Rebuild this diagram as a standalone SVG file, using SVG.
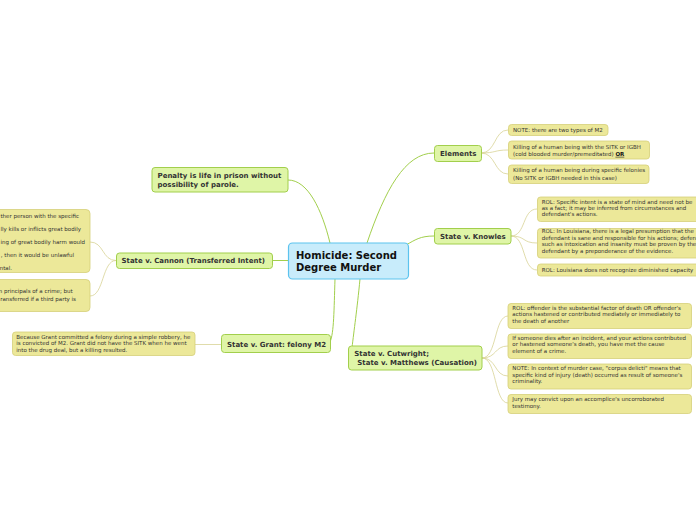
<svg xmlns="http://www.w3.org/2000/svg" width="696" height="520" viewBox="0 0 696 520">
<style>
.bg{fill:#ffffff}
.main rect{fill:#c8ecfb;stroke:#5cc3ee;stroke-width:1.2}
.main text{font-family:"DejaVu Sans",Verdana,sans-serif;font-weight:bold;font-size:10px;fill:#111}
.topic rect{fill:#dff5a7;stroke:#a2cf4c;stroke-width:1}
.topic text{font-family:"DejaVu Sans",Verdana,sans-serif;font-weight:bold;font-size:7px;fill:#333}
.leaf rect{fill:#ece899;stroke:#d5cf78;stroke-width:0.8}
.leaf text{font-family:"DejaVu Sans",Verdana,sans-serif;font-size:5.5px;fill:#333}
.c1{fill:none;stroke:#a2cf4c;stroke-width:1}
.c2{fill:none;stroke:#d8d396;stroke-width:0.8}
</style>
<rect class="bg" x="0" y="0" width="696" height="520"/>
<g id="connectors">
<path class="c1" d="M330,243 C322,210 308,180 288,180"/>
<path class="c1" d="M367,243 C385,190 405,153 434,153"/>
<path class="c1" d="M406,245 C415,240 420,236 434,236"/>
<path class="c1" d="M272,260.5 L288,260.5"/>
<path class="c1" d="M335,279 C334,310 334,333 330,342"/>
<path class="c1" d="M360,279 C357,310 354,330 352,348"/>
<path class="c2" d="M481,153 C496,153 494,130 508,130"/>
<path class="c2" d="M481,153 C496,153 494,150 508,150"/>
<path class="c2" d="M481,153 C496,153 494,174 508,174"/>
<path class="c2" d="M511,236 C526,236 522,209 537,209"/>
<path class="c2" d="M511,236 C526,236 522,243 537,243"/>
<path class="c2" d="M511,236 C526,236 522,270 537,270"/>
<path class="c2" d="M482,358 C497,358 494,316 508,316"/>
<path class="c2" d="M482,358 C497,358 494,346 508,346"/>
<path class="c2" d="M482,358 C497,358 494,376 508,376"/>
<path class="c2" d="M482,358 C497,358 494,403 508,403"/>
<path class="c2" d="M116,260.5 C102,260.5 104,242 90,242"/>
<path class="c2" d="M116,260.5 C102,260.5 104,296 90,296"/>
<path class="c2" d="M195,344.5 L221,344.5"/>
</g>
<g id="central" class="main">
<rect x="288.5" y="243" width="120" height="36" rx="4"/>
<text x="296" y="258.5">Homicide: Second</text>
<text x="296" y="270.5">Degree Murder</text>
</g>
<g id="penalty" class="topic">
<rect x="152" y="167.5" width="136" height="24.5" rx="3"/>
<text x="157.5" y="177.5">Penalty is life in prison without</text>
<text x="157.5" y="186.8">possibility of parole.</text>
</g>
<g id="elements" class="topic">
<rect x="434.5" y="145.5" width="47" height="16" rx="3"/>
<text x="440" y="156">Elements</text>
</g>
<g id="knowles" class="topic">
<rect x="434.5" y="228.5" width="76.5" height="15.5" rx="3"/>
<text x="440" y="238.7">State v. Knowles</text>
</g>
<g id="cannon" class="topic">
<rect x="116.5" y="253" width="156" height="15.5" rx="3"/>
<text x="121.5" y="263">State v. Cannon (Transferred Intent)</text>
</g>
<g id="grant" class="topic">
<rect x="221.5" y="334.5" width="109" height="18" rx="3"/>
<text x="227" y="346.9">State v. Grant: felony M2</text>
</g>
<g id="cutwright" class="topic">
<rect x="348.5" y="346" width="133.5" height="24" rx="3"/>
<text x="354.3" y="355.9">State v. Cutwright;</text>
<text x="357.3" y="364.7">State v. Matthews (Causation)</text>
</g>
<g id="el-note" class="leaf">
<rect x="508.5" y="124.5" width="99.5" height="11" rx="3"/>
<text x="513" y="131.8">NOTE: there are two types of M2</text>
</g>
<g id="el-sitk" class="leaf">
<rect x="508.5" y="141" width="141" height="18" rx="3"/>
<text x="513" y="148.5">Killing of a human being with the SITK or IGBH</text>
<text x="513" y="155.8">(cold blooded murder/premeditated) <tspan font-weight="bold" text-decoration="underline" fill="#111">OR</tspan></text>
</g>
<g id="el-felony" class="leaf">
<rect x="508.5" y="165" width="140.5" height="18.5" rx="3"/>
<text x="513" y="172.4">Killing of a human being during specific felonies</text>
<text x="513" y="179.5">(No SITK or IGBH needed in this case)</text>
</g>
<g id="kn-intent" class="leaf">
<rect x="537.5" y="197" width="170" height="24.5" rx="3"/>
<text x="541.7" y="203.5">ROL: Specific intent is a state of mind and need not be</text>
<text x="541.7" y="209.8">as a fact; it may be inferred from circumstances and</text>
<text x="541.7" y="216">defendant's actions.</text>
</g>
<g id="kn-sane" class="leaf">
<rect x="537.5" y="228.5" width="170" height="29.5" rx="3"/>
<text x="541.7" y="233">ROL: In Louisiana, there is a legal presumption that the</text>
<text x="541.7" y="239.5">defendant is sane and responsible for his actions; defen</text>
<text x="541.7" y="246">such as intoxication and insanity must be proven by the</text>
<text x="541.7" y="252.5">defendant by a preponderance of the evidence.</text>
</g>
<g id="kn-capacity" class="leaf">
<rect x="537.5" y="264" width="170" height="12" rx="3"/>
<text x="541.7" y="272">ROL: Louisiana does not recognize diminished capacity</text>
</g>
<g id="cu-rol" class="leaf">
<rect x="508" y="303.5" width="183.5" height="25" rx="3"/>
<text x="512.3" y="309.5">ROL: offender is the substantial factor of death OR offender's</text>
<text x="512.3" y="316">actions hastened or contributed mediately or immediately to</text>
<text x="512.3" y="322.5">the death of another</text>
</g>
<g id="cu-dies" class="leaf">
<rect x="508" y="334" width="183.5" height="24.5" rx="3"/>
<text x="512.3" y="339.8">If someone dies after an incident, and your actions contributed</text>
<text x="512.3" y="346.2">or hastened someone's death, you have met the cause</text>
<text x="512.3" y="352.6">element of a crime.</text>
</g>
<g id="cu-corpus" class="leaf">
<rect x="508" y="364" width="183.5" height="25" rx="3"/>
<text x="512.3" y="370.3">NOTE: In context of murder case, "corpus delicti" means that</text>
<text x="512.3" y="376.6">specific kind of injury (death) occurred as result of someone's</text>
<text x="512.3" y="383">criminality.</text>
</g>
<g id="cu-jury" class="leaf">
<rect x="508" y="394.5" width="183.5" height="19" rx="3"/>
<text x="512.3" y="401.2">Jury may convict upon an accomplice's uncorroborated</text>
<text x="512.3" y="407.5">testimony.</text>
</g>
<g id="grant-leaf" class="leaf">
<rect x="12.5" y="332" width="182.5" height="23.5" rx="3"/>
<text x="16.3" y="338.5">Because Grant committed a felony during a simple robbery, he</text>
<text x="16.3" y="345">is convicted of M2. Grant did not have the SITK when he went</text>
<text x="16.3" y="351.5">into the drug deal, but a killing resulted.</text>
</g>
<g id="cannon-leaf1" class="leaf">
<rect x="-200" y="209.5" width="290" height="63" rx="4"/>
<text x="79" y="217.5" text-anchor="end">ther person with the specific</text>
<text x="81" y="230.5" text-anchor="end">lly kills or inflicts great bodily</text>
<text x="85" y="243.5" text-anchor="end">ing of great bodily harm would</text>
<text x="74" y="256.5" text-anchor="end">, then it would be unlawful</text>
<text x="12" y="269.5" text-anchor="end">ntal.</text>
</g>
<g id="cannon-leaf2" class="leaf">
<rect x="-200" y="279.5" width="290" height="32" rx="4"/>
<text x="72.7" y="293" text-anchor="end">n principals of a crime; but</text>
<text x="76" y="300.5" text-anchor="end">ransferred if a third party is</text>
</g>
</svg>
